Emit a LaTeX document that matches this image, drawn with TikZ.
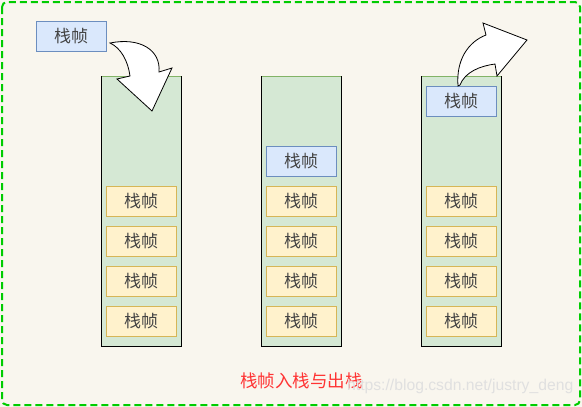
\documentclass[tikz,border=0pt]{standalone}
\usepackage{fontspec}
\newfontfamily\cjk{Noto Sans CJK SC}
\setsansfont{Liberation Sans}
\definecolor{bgc}{HTML}{F9F6EE}
\definecolor{frameg}{HTML}{00CC00}
\definecolor{stackfill}{HTML}{D5E8D4}
\definecolor{stackline}{HTML}{82B366}
\definecolor{yfill}{HTML}{FFF2CC}
\definecolor{yline}{HTML}{D6B656}
\definecolor{bfill}{HTML}{DAE8FC}
\definecolor{bline}{HTML}{6C8EBF}
\definecolor{txt}{HTML}{444444}
\definecolor{capred}{HTML}{FF3333}
\tikzset{
  frbox/.style={draw=yline, fill=yfill, line width=0.9pt, minimum width=70pt, minimum height=30pt, inner sep=0pt, font=\cjk\fontsize{17}{17}\selectfont, text=txt},
  bluebox/.style={frbox, draw=bline, fill=bfill},
  blockarrow/.style={draw=black, fill=white, line width=0.8pt, line join=miter},
}
\begin{document}
\begin{tikzpicture}[x=1pt,y=-1pt]
\useasboundingbox (0,0) rectangle (582,407);
\fill[bgc] (0,0) rectangle (582,407);
\draw[frameg, line width=2pt, dash pattern=on 7pt off 4pt, rounded corners=5pt] (2,2) rectangle (580,405);
% stacks
\foreach \sx/\nm in {101/s1,261/s2,421/s3}{
  \fill[stackfill] (\sx,76) rectangle ++(80,270);
  \draw[stackline, line width=0.9pt] (\sx,76) -- ++(80,0);
  \draw[black, line width=0.9pt] (\sx,76) -- (\sx,346) -- (\sx+80,346) -- (\sx+80,76);
}
% yellow frames
\foreach \cx/\c in {141/a,301/b,461/c}{
  \foreach \cy/\r in {201/1,241/2,281/3,321/4}{
    \node[frbox] (f\c\r) at (\cx,\cy) {栈帧};
  }
}
% blue frames
\node[bluebox] (top0) at (71,36) {栈帧};
\node[bluebox] (top2) at (301,161) {栈帧};
\node[bluebox] (top3) at (461,101) {栈帧};
% arrows
\draw[blockarrow] (110,43) .. controls (140,37) and (161,50) .. (159,72) -- (172,68) -- (152,111) -- (117,79) -- (130,76) .. controls (128,61) and (121,48) .. (110,43) -- cycle;
\draw[blockarrow] (458,86) .. controls (456,60) and (468,42) .. (486,35) -- (483,23) -- (527,40) -- (497,76) -- (495,64) .. controls (480,66) and (465,72) .. (460,85) -- cycle;
% caption
\node[font=\cjk\fontsize{17.5}{17.5}\selectfont, text=capred] (cap) at (301.5,381) {栈帧入栈与出栈};
\node[font=\sffamily\fontsize{15.7}{15.7}\selectfont, text=black!12, anchor=west, inner sep=0pt] (wm) at (347,386) {https://blog.csdn.net/justry\_deng};
\end{tikzpicture}
\end{document}
